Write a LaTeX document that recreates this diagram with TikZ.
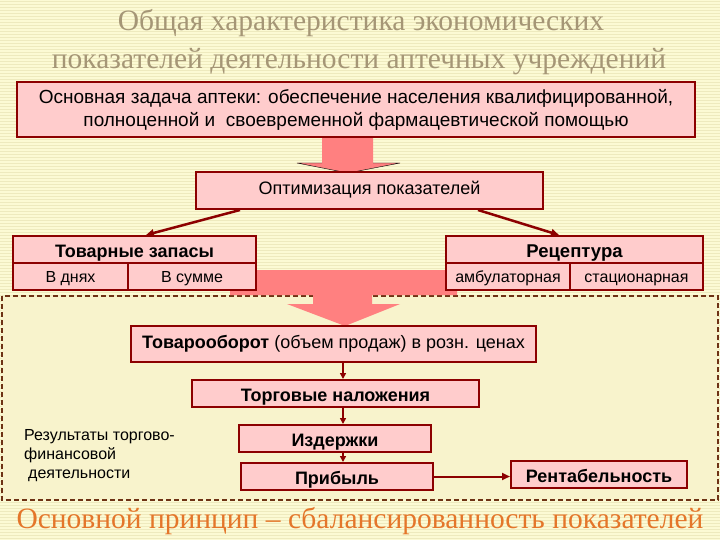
\documentclass[tikz,border=0pt]{standalone}
\usepackage{fontspec}
\setmainfont{Liberation Serif}
\setsansfont{Liberation Sans}
\usetikzlibrary{arrows.meta}
\definecolor{bgY}{RGB}{252,250,212}
\definecolor{bgL}{RGB}{238,234,190}
\definecolor{inY}{RGB}{248,243,204}
\definecolor{boxF}{RGB}{255,204,204}
\definecolor{boxD}{RGB}{140,0,0}
\definecolor{arrF}{RGB}{255,128,128}
\definecolor{ttl}{RGB}{165,150,118}
\definecolor{org}{RGB}{228,118,42}
\definecolor{dsh}{RGB}{110,50,20}
\begin{document}
\begin{tikzpicture}[x=1pt,y=-1pt,
  boxbase/.style={draw=boxD, line width=2pt, fill=boxF, inner sep=0pt, align=center,
    font=\sffamily\fontsize{16}{19}\selectfont},
  box/.style={boxbase, text height=13pt, text depth=2pt},
  bbox/.style={boxbase, text height=17pt, text depth=2pt,
    font=\sffamily\bfseries\fontsize{18}{21}\selectfont},
  con/.style={draw=boxD, line width=1.5pt, -{Triangle[length=6pt,width=6pt]}},
  bcon/.style={draw=boxD, line width=2.5pt, -{Triangle[length=8pt,width=7pt]}},
  ttlstyle/.style={text=ttl, font=\fontsize{29.5}{31}\selectfont, inner sep=0pt},
  barrow/.style={fill=arrF}
]
\useasboundingbox (0,0) rectangle (720,540);
\fill[bgY] (0,0) rectangle (720,540);
\foreach \i in {0,3,...,537} \draw[bgL, line width=1pt] (0,\i+1.5) -- (720,\i+1.5);

% titles
\node[ttlstyle, anchor=base] (t1) at (361,31) {Общая характеристика экономических};
\node[ttlstyle, anchor=base] (t2) at (359,69) {показателей деятельности аптечных учреждений};
\node[ttlstyle, text=org, anchor=base] (t3) at (360,528) {Основной принцип – сбалансированность показателей};

% dashed area
\draw[dsh, fill=inY, line width=1.5pt, dash pattern=on 5pt off 3pt] (2,296) rectangle (718,500);

% block arrows
\path[barrow] (322,137) -- (373,137) -- (373,163) -- (400,163) -- (348,173) -- (297,163) -- (322,163) -- cycle;
\draw[black, line width=0.4pt] (322,163) -- (297,163) -- (348,173) -- (400,163) -- (373,163);
\path[barrow] (230,270) -- (457,270) -- (457,295) -- (372,295) -- (372,304) -- (400,304) -- (345,326)
  -- (287,304) -- (313,304) -- (313,295) -- (230,295) -- cycle;

% boxes
\node[boxbase, minimum width=678, minimum height=55,
  font=\sffamily\fontsize{19}{23}\selectfont] (main) at (356,109.5)
  {Основная задача аптеки: обеспечение населения квалифицированной,\\полноценной и \ своевременной фармацевтической помощью};
\node[boxbase, minimum width=347, minimum height=37, text height=13pt, text depth=4pt,
  font=\sffamily\fontsize{18}{21}\selectfont] (opt) at (369.5,190.5) {Оптимизация показателей};

\node[bbox, minimum width=243, minimum height=27] (tz) at (134.5,249.5) {Товарные запасы};
\node[box, minimum width=115, minimum height=27] (tzd) at (70.5,276.5) {В днях};
\node[box, minimum width=128, minimum height=27] (tzs) at (192,276.5) {В сумме};

\node[bbox, minimum width=257, minimum height=27,
  font=\sffamily\bfseries\fontsize{18.5}{21}\selectfont] (rc) at (574.5,249.5) {Рецептура};
\node[box, minimum width=124, minimum height=27] (rca) at (508,276.5) {амбулаторная};
\node[box, minimum width=133, minimum height=27] (rcs) at (636.5,276.5) {стационарная};

\node[boxbase, minimum width=405, minimum height=36, text height=13pt, text depth=4pt,
  font=\sffamily\fontsize{18}{21}\selectfont] (tob) at (333.5,344) {\textbf{Товарооборот} (объем продаж) в розн. ценах};
\node[bbox, minimum width=287, minimum height=27] (tn) at (335.5,393.5) {Торговые наложения};
\node[bbox, minimum width=192, minimum height=27] (izd) at (335,438.5) {Издержки};
\node[bbox, minimum width=192, minimum height=27] (prb) at (337,476.5) {Прибыль};
\node[bbox, minimum width=176, minimum height=27] (rnt) at (599,474.5) {Рентабельность};

\node[anchor=north west, inner sep=0pt, align=left, font=\sffamily\fontsize{16}{19}\selectfont] (res) at (24,429)
  {Результаты торгово-\\финансовой\\\hspace*{4pt}деятельности};

% connectors
\draw[bcon] ([xshift=-129.5pt]opt.south) -- ([xshift=11.5pt]tz.north);
\draw[bcon] ([xshift=108.5pt]opt.south) -- ([xshift=-15.5pt]rc.north);
\coordinate (vx) at (343,0);
\draw[con] (tob.south -| vx) -- (tn.north -| vx);
\draw[con] (tn.south -| vx) -- (izd.north -| vx);
\draw[con] (izd.south -| vx) -- (prb.north -| vx);
\draw[bcon, line width=2pt] (prb.east) -- (prb.east -| rnt.west);
\end{tikzpicture}
\end{document}
